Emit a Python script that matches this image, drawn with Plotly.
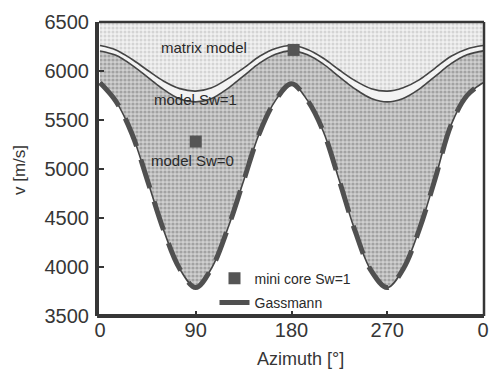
import plotly.graph_objects as go

# ---- data ----
azimuth = [0, 15, 30, 45, 60, 75, 90, 105, 120, 135, 150, 165, 180,
           195, 210, 225, 240, 255, 270, 285, 300, 315, 330, 345, 360]
v_matrix = [6260, 6215, 6120, 6005, 5895, 5820, 5795, 5830, 5920, 6030, 6150, 6230, 6260,
            6220, 6130, 6010, 5900, 5820, 5795, 5830, 5910, 6030, 6150, 6225, 6260]
v_sw1 = [6205, 6160, 6060, 5935, 5810, 5715, 5685, 5720, 5820, 5950, 6080, 6170, 6205,
         6165, 6070, 5940, 5815, 5720, 5685, 5720, 5815, 5945, 6075, 6165, 6205]
v_sw0 = [5880, 5690, 5360, 4870, 4370, 3980, 3790, 3990, 4390, 4880, 5370, 5700, 5870,
         5700, 5380, 4880, 4360, 3960, 3790, 3980, 4380, 4900, 5450, 5750, 5880]
core_az = [90, 182]
core_v = [5280, 6215]

x_tickvals = [0, 90, 180, 270, 360]
x_ticktext = ["0", "90", "180", "270", "0"]
y_tickvals = [3500, 4000, 4500, 5000, 5500, 6000, 6500]
y_min, y_max = 3500, 6500

FONT = "Liberation Sans"
DARK = "#363636"
L, R, T, B = 99, 11, 18, 53
W, H = 500, 369
pw, ph = W - L - R, H - T - B


def px(x):
    return (x - L) / pw


def py(y):
    return (H - B - y) / ph


fig = go.Figure()

# invisible top boundary
fig.add_trace(go.Scatter(x=azimuth, y=[y_max] * len(azimuth), mode="lines",
                         line=dict(width=0), showlegend=False, hoverinfo="skip"))
# matrix model (light dotted region above)
fig.add_trace(go.Scatter(x=azimuth, y=v_matrix, mode="lines", line_shape="spline",
                         line=dict(color="#454545", width=1.6), fill="tonexty",
                         fillcolor="#ececec",
                         fillpattern=dict(shape=".", bgcolor="#f1f1f1", fgcolor="#b8b8b8",
                                          size=4, solidity=0.45),
                         showlegend=False, hoverinfo="skip"))
# model Sw=1 (narrow light band)
fig.add_trace(go.Scatter(x=azimuth, y=v_sw1, mode="lines", line_shape="spline",
                         line=dict(color="#454545", width=1.6), fill="tonexty",
                         fillcolor="#f3f3f3", showlegend=False, hoverinfo="skip"))
# model Sw=0 (dark dotted region between Sw=1 and Sw=0)
fig.add_trace(go.Scatter(x=azimuth, y=v_sw0, mode="lines", line_shape="spline",
                         line=dict(color="#454545", width=1.6), fill="tonexty",
                         fillcolor="#c0c0c0",
                         fillpattern=dict(shape=".", bgcolor="#d0d0d0", fgcolor="#747474",
                                          size=4, solidity=0.5),
                         showlegend=False, hoverinfo="skip"))
# Gassmann dashed line
fig.add_trace(go.Scatter(x=azimuth, y=v_sw0, mode="lines", line_shape="spline",
                         line=dict(color="#505050", width=5, dash="30px,14px"),
                         name="Gassmann", legendgroup="b", legendrank=2,
                         hoverinfo="skip"))
# mini core
fig.add_trace(go.Scatter(x=core_az, y=core_v, mode="markers",
                         marker=dict(symbol="square", size=12, color="#555555",
                                     line=dict(width=0)),
                         name="mini core Sw=1", legendgroup="a", legendrank=1,
                         hoverinfo="skip"))

ann_font = dict(size=15, color="#2a2a2a")
fig.update_layout(
    width=W, height=H,
    margin=dict(l=L, r=R, t=T, b=B),
    paper_bgcolor="white", plot_bgcolor="white",
    font=dict(family=FONT, color=DARK),
    showlegend=True,
    legend=dict(x=px(216), y=py(262), xanchor="left", yanchor="top",
                bgcolor="rgba(0,0,0,0)", font=dict(size=14, color="#2a2a2a"),
                traceorder="grouped", tracegroupgap=3, itemwidth=30),
    xaxis=dict(range=[-0.93, 360.93], tickvals=x_tickvals, ticktext=x_ticktext,
               showgrid=False, zeroline=False, showline=False,
               ticks="inside", ticklen=5, tickwidth=1.5,
               tickcolor=DARK, tickfont=dict(size=20, color=DARK),
               ticklabelstandoff=0),
    yaxis=dict(range=[y_min, y_max], tickvals=y_tickvals, showgrid=False,
               zeroline=False, showline=True, linewidth=4, linecolor=DARK,
               ticks="inside", ticklen=5, tickwidth=1.5, tickcolor=DARK,
               tickfont=dict(size=20, color=DARK), ticklabelstandoff=2),
    shapes=[
        dict(type="line", xref="paper", yref="paper", x0=0, x1=1, y0=1, y1=1,
             line=dict(color=DARK, width=2.5)),
        dict(type="line", xref="paper", yref="paper", x0=1, x1=1, y0=0, y1=1,
             line=dict(color=DARK, width=2.5)),
        dict(type="line", xref="paper", yref="paper", x0=-0.005, x1=1, y0=0, y1=0,
             line=dict(color=DARK, width=4)),
    ],
    annotations=[
        dict(text="matrix model", x=px(205), y=py(44), font=ann_font),
        dict(text="model Sw=1", x=px(197), y=py(97), font=ann_font),
        dict(text="model Sw=0", x=px(194), y=py(158), font=ann_font),
        dict(text="Azimuth [°]", x=px(303), y=py(360), font=dict(size=18, color=DARK)),
        dict(text="v [m/s]", x=px(19), y=py(168), textangle=-90,
             font=dict(size=17, color=DARK)),
    ],
)
fig.update_annotations(xref="paper", yref="paper", showarrow=False,
                       xanchor="center", yanchor="middle")

fig.write_html("out.html")
